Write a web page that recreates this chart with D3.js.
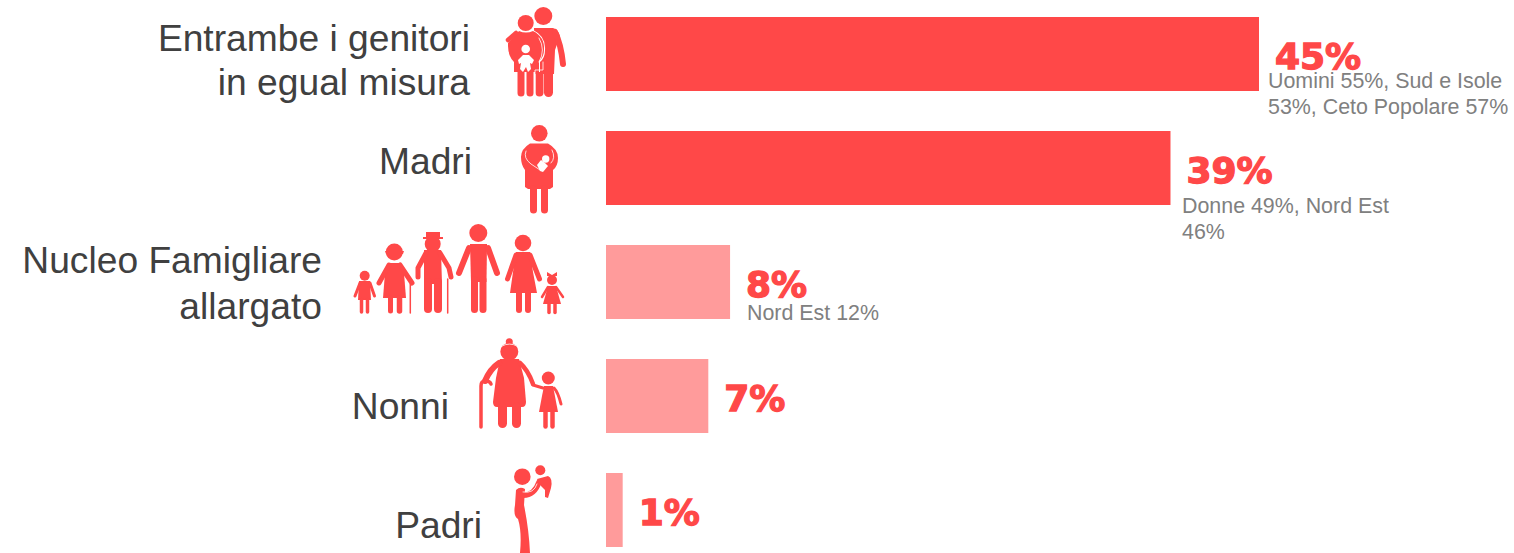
<!DOCTYPE html>
<html>
<head>
<meta charset="utf-8">
<script src="https://cdn.jsdelivr.net/npm/d3@7"></script>
<style>
  html, body { margin: 0; padding: 0; background: #fff; overflow: hidden; }
  svg { display: block; }
</style>
</head>
<body>
<div id="app"></div>
<script>
'use strict'

const categories = ['Entrambe', 'Madri', 'Nucleo', 'Nonni', 'Padri']
const values = [45, 38.9, 8.55, 7.05, 1.15]
const valueLabels = ['45%', '39%', '8%', '7%', '1%']
const categoryLines = [
  ['Entrambe i genitori', 'in egual misura'],
  ['Madri'],
  ['Nucleo Famigliare', 'allargato'],
  ['Nonni'],
  ['Padri']
]
const noteLines = [
  ['Uomini 55%, Sud e Isole', '53%, Ceto Popolare 57%'],
  ['Donne 49%, Nord Est', '46%'],
  ['Nord Est 12%'],
  [],
  []
]
const strong = ['Entrambe', 'Madri']

const setWidth = 1514
const setHeight = 553
const red = '#ff4848'
const pink = '#ff9b9b'

const svg = d3.select('#app')
  .append('svg')
  .attr('width', setWidth)
  .attr('height', setHeight)

const scaleX = d3.scaleLinear().domain([0, 45]).range([606, 1259])

const scaleY = d3.scaleBand()
  .domain(categories)
  .range([17, 547])
  .paddingInner(40 / 114)

svg.selectAll('rect.bar')
  .data(categories)
  .enter()
  .append('rect')
  .classed('bar', true)
  .attr('x', scaleX(0))
  .attr('y', d => scaleY(d))
  .attr('width', (d, i) => scaleX(values[i]) - scaleX(0))
  .attr('height', scaleY.bandwidth())
  .attr('fill', d => strong.includes(d) ? red : pink)

// category labels: right edge, first baseline and line gap for each row
const labelRight = [470, 472, 322, 449, 482]
const labelBase = [51, 174, 273, 419, 538]
const labelGap = [44, 0, 46, 0, 0]

categories.forEach((c, i) => {
  svg.append('g').selectAll('text')
    .data(categoryLines[i])
    .enter()
    .append('text')
    .attr('x', labelRight[i])
    .attr('y', (d, j) => labelBase[i] + j * labelGap[i])
    .attr('text-anchor', 'end')
    .attr('font-family', '"Liberation Sans", Arial, sans-serif')
    .attr('font-size', 37.2)
    .attr('fill', '#404040')
    .text(d => d)
})

// big percentages
svg.selectAll('text.value')
  .data(categories)
  .enter()
  .append('text')
  .classed('value', true)
  .attr('x', (d, i) => scaleX(values[i]) + 16)
  .attr('y', d => scaleY(d) + 52)
  .attr('font-family', '"DejaVu Sans", sans-serif')
  .attr('font-weight', 700)
  .attr('font-size', 36)
  .attr('fill', red)
  .attr('stroke', red)
  .attr('stroke-width', 1.3)
  .text((d, i) => valueLabels[i])

// small notes
const noteX = [1268, 1182, 747]
const noteBase = [88, 213, 320]

noteX.forEach((x, i) => {
  svg.append('g').selectAll('text')
    .data(noteLines[i])
    .enter()
    .append('text')
    .attr('x', x)
    .attr('y', (d, j) => noteBase[i] + j * 26)
    .attr('font-family', '"Liberation Sans", Arial, sans-serif')
    .attr('font-size', 21.4)
    .attr('fill', '#808080')
    .text(d => d)
})

// pictograms, built from a few primitives
const icons = svg.append('g')

const head = (g, x, y, r, fill = red) => g.append('circle')
  .attr('cx', x).attr('cy', y).attr('r', r).attr('fill', fill)

const limb = (g, d, w, stroke = red) => g.append('path')
  .attr('d', d).attr('fill', 'none').attr('stroke', stroke)
  .attr('stroke-width', w).attr('stroke-linecap', 'round').attr('stroke-linejoin', 'round')

const shape = (g, d, fill = red) => g.append('path').attr('d', d).attr('fill', fill)

// both parents
const parents = icons.append('g')
head(parents, 543.3, 16, 9)
shape(parents, 'M534 28 H553 Q558 29 560 36 L555 50 L554 74 H535 Z')
limb(parents, 'M555 32 Q561 44 563 64', 6)
limb(parents, 'M539.5 72 V92.5', 8)
limb(parents, 'M548.5 72 V92.5', 9)
head(parents, 525.7, 23.5, 9.2, '#fff')
shape(parents, 'M512 31 L519 30 Q526 33 533 30 Q546 36 545 50 Q545 58 540 62 V72 H513 V62 Q507 56 507 46 L507 41 Z', '#fff')
head(parents, 525.7, 23, 8)
shape(parents, 'M519 31 Q526 34 533 31 Q545 37 544 50 Q544 57 539 61 V72 H514 V62 Q508 56 508 46 L508 43 Z')
limb(parents, 'M508 40 L516 33', 4.5)
limb(parents, 'M521 72 V93', 7)
limb(parents, 'M530 72 V93', 7)
limb(parents, 'M539 38 Q546 50 539 62', 0.8, '#fff')
limb(parents, 'M543 62 V70 H535 V96', 0.8, '#fff')
head(parents, 525.7, 49, 4.3, '#fff')
shape(parents, 'M518 60 L523 55 H529 L534 60 L532 64 L530 63 L531 69 L528 72 L526 67 L523 72 L520 69 L521 63 L519 64 Z', '#fff')

// mother
const mother = icons.append('g')
head(mother, 539.3, 133.3, 8.3)
shape(mother, 'M530 143.5 H548 Q558 149 558 158 Q558 166 553 170 V187 L550 189 H528 L525 187 V170 Q521 165 521 157 Q521 149 530 143.5 Z')
limb(mother, 'M533.5 189 V210', 7)
limb(mother, 'M544.5 189 V210', 7)
limb(mother, 'M526 151 Q523 158 531 164 L540 170', 0.8, '#fff')
limb(mother, 'M552 150 Q556 158 551 163', 0.8, '#fff')
head(mother, 545.7, 159, 3.7, '#fff')
shape(mother, 'M537 165 L541 160 L545 163 L548 166 L543 172 L540 171 Z', '#fff')

// extended family: boy
const family = icons.append('g')
head(family, 364.7, 275.7, 5)
shape(family, 'M359 281 H370 L371 300 H358 Z')
limb(family, 'M360 283 L355 296', 3)
limb(family, 'M370 283 L374.5 296', 3)
limb(family, 'M361.5 299 V312', 3.5)
limb(family, 'M367.5 299 V312', 3.5)
// grandmother
head(family, 394.3, 252, 8.5)
shape(family, 'M385 251 H404 L403 254 H386 Z')
shape(family, 'M389 263 H400 L404 273 L406 298 H383 L385 273 Z')
limb(family, 'M389 265 L379 283', 5)
limb(family, 'M400 265 L412 283', 5)
limb(family, 'M390.5 298 V311', 5)
limb(family, 'M399.5 298 V311', 5.5)
limb(family, 'M410.3 284 V313', 1.5)
// grandfather
head(family, 432.7, 244, 8)
shape(family, 'M426 232 H440 V237 H443 V239 H423 V237 H426 Z')
shape(family, 'M424 250 H441 L442 284 H424 Z')
limb(family, 'M426 253 L418 268 V277', 5)
limb(family, 'M440 253 L449 268 L451 277', 5)
limb(family, 'M428 282 V309', 8)
limb(family, 'M438 282 V309', 8)
limb(family, 'M447.7 279 V313', 1.5)
// father
head(family, 478.3, 233, 9)
shape(family, 'M470 244 H487 L486.5 282 H471 Z')
limb(family, 'M469 248 L459 273', 6)
limb(family, 'M488 248 L497 273', 6)
limb(family, 'M474.5 280 V309.5', 7)
limb(family, 'M483 280 V309.5', 7)
// mother
head(family, 523, 243, 8.3)
shape(family, 'M516 252 H530 L533 272 L537 293 H510 L513 272 Z')
limb(family, 'M516 255 L507.5 279', 5)
limb(family, 'M530 255 L539.5 279', 5)
limb(family, 'M519 293 V310', 6)
limb(family, 'M528 293 V310', 6)
// girl
head(family, 552, 280, 5)
shape(family, 'M547 272 L552 275 L557 272 V276 H547 Z')
shape(family, 'M548 286 H556 L561 304 H543 Z')
limb(family, 'M548 287 L542 297', 2.5)
limb(family, 'M556 287 L563 297', 2.5)
limb(family, 'M549 304 V312.5', 3.5)
limb(family, 'M555 304 V312.5', 3.5)

// grandmother with child
const nonna = icons.append('g')
head(nonna, 509.3, 351.7, 9)
head(nonna, 509.3, 341.7, 3.5)
limb(nonna, 'M502 346 Q509.5 342 517 346', 0.8, '#fff')
shape(nonna, 'M500 359 H519 L524 378 L526 402 Q526 407 522 407 H497 Q493 407 493 402 L496 378 Z')
limb(nonna, 'M499 363 Q490 369 485 381', 6)
limb(nonna, 'M520 363 Q528 370 533 384', 4.5)
limb(nonna, 'M533 385 L543 388', 3)
limb(nonna, 'M502.5 407 V423.5', 9)
limb(nonna, 'M516.5 407 V423.5', 9)
limb(nonna, 'M481 427 V386 Q481 381 485 381 Q490 381 491 384', 3.5)
head(nonna, 548.3, 378, 6.5)
shape(nonna, 'M544 386 H553 L558 412 H539 L542 396 Z')
limb(nonna, 'M554 388 Q558 392 561 404', 3)
limb(nonna, 'M545.5 412 V426.5', 4.5)
limb(nonna, 'M552.5 412 V426.5', 4.5)

// father lifting a child
const padre = icons.append('g')
head(padre, 522.3, 476.7, 8.3)
head(padre, 540.3, 470.3, 5)
shape(padre, 'M516 490 Q520 486 525 489 L524 505 Q529 530 530 553 H520 Q522 532 518 519 Q513 516 515 505 Z')
limb(padre, 'M520 495 Q534 497 539 482', 5.5)
shape(padre, 'M537 479 L548 476 Q553 478 551 488 L548 498 L545 497 L545 490 L541 486 Z')
limb(padre, 'M523 492 Q534 494 537 484', 0.8, '#fff')
</script>
</body>
</html>
